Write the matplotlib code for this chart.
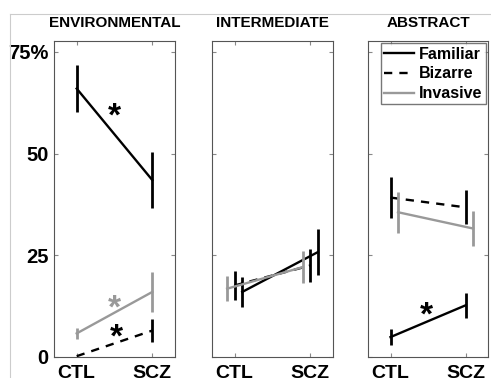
import numpy as np
import matplotlib
matplotlib.use("Agg")
import matplotlib.pyplot as plt
from matplotlib.lines import Line2D

plt.rcParams['font.family'] = ['Liberation Sans', 'DejaVu Sans']
plt.rcParams['font.weight'] = 'bold'

panels = ['ENVIRONMENTAL', 'INTERMEDIATE', 'ABSTRACT']
groups = ['CTL', 'SCZ']
conditions = ['Familiar', 'Bizarre', 'Invasive']

# means (CTL, SCZ) and half error bars, per panel
familiar_mean = [[66.0, 43.5], [16.0, 25.8], [4.9, 12.7]]
familiar_err = [[5.7, 6.8], [3.7, 5.7], [1.9, 3.0]]
bizarre_mean = [[0.2, 6.5], [17.6, 22.5], [39.2, 36.8]]
bizarre_err = [[0.0, 2.9], [3.6, 4.0], [5.0, 4.2]]
invasive_mean = [[5.8, 16.0], [16.8, 22.1], [35.6, 31.6]]
invasive_err = [[1.4, 5.0], [3.0, 4.0], [5.0, 4.4]]

# x offset of each condition in each panel
offsets = {'Familiar': [0, 0.1, 0], 'Bizarre': [0, 0, 0], 'Invasive': [0, -0.1, 0.1]}

# significance stars: (panel, x, y, colour)
stars = [(0, 1.5, 59.0, 'black'), (0, 1.5, 11.8, '#999999'),
         (0, 1.52, 4.6, 'black'), (2, 1.48, 10.0, 'black')]

styles = {'Familiar': ('black', '-'), 'Bizarre': ('black', (0, (3.5, 3))),
          'Invasive': ('#999999', '-')}
means = {'Familiar': familiar_mean, 'Bizarre': bizarre_mean, 'Invasive': invasive_mean}
errs = {'Familiar': familiar_err, 'Bizarre': bizarre_err, 'Invasive': invasive_err}

fig = plt.figure(figsize=(4.91, 3.78), dpi=100)
lefts = [54, 212, 368]
widths = [121, 121, 120]
axes = []
for i, name in enumerate(panels):
    ax = fig.add_axes([lefts[i] / 491, 21 / 378, widths[i] / 491, 316 / 378])
    axes.append(ax)
    x = np.array([1, 2])
    for c in conditions:
        col, ls = styles[c]
        xs = x + offsets[c][i]
        ax.plot(xs, means[c][i], color=col, linestyle=ls, lw=1.7, zorder=3)
        for xx, m, e in zip(xs, means[c][i], errs[c][i]):
            if e > 0:
                ax.plot([xx, xx], [m - e, m + e], color=col, lw=2.0,
                        solid_capstyle='butt', zorder=3)
    ax.set_xlim(0.7, 2.3)
    ax.set_ylim(0, 77.7)
    ax.set_xticks([1, 2])
    ax.set_xticklabels(groups, fontsize=14, fontweight='bold')
    ax.set_yticks([0, 25, 50, 75])
    if i == 0:
        ax.set_yticklabels(['0', '25', '50', '75%'], fontsize=14.5, fontweight='bold')
    else:
        ax.set_yticklabels([])
    ax.tick_params(direction='in', length=3, color='#888888', top=True, right=True)
    ax.tick_params(axis='x', pad=6)
    ax.tick_params(axis='y', pad=4)
    for s in ax.spines.values():
        s.set_color('#555555')
        s.set_linewidth(0.8)
    ax.set_title(name, fontsize=11, fontweight='bold', pad=10)

for p, sx, sy, col in stars:
    axes[p].text(sx, sy, '*', color=col, fontsize=24, fontweight='bold',
                 ha='center', va='center', zorder=4)

handles = [Line2D([], [], color=styles[c][0], linestyle=styles[c][1], lw=1.7)
           for c in conditions]
axes[2].legend(handles, conditions, loc='upper right',
               prop={'weight': 'bold', 'size': 11.5}, frameon=True, fancybox=False,
               edgecolor='#555555', borderpad=0.2, handlelength=1.9,
               handletextpad=0.3, labelspacing=0.3, borderaxespad=0.15)

# faint outer frame
fig.add_artist(Line2D([10 / 491, 1], [1 - 14 / 378, 1 - 14 / 378], color='#cccccc', lw=0.8))
fig.add_artist(Line2D([10 / 491, 10 / 491], [0, 1 - 14 / 378], color='#cccccc', lw=0.8))

fig.savefig('out.png', dpi=100)
